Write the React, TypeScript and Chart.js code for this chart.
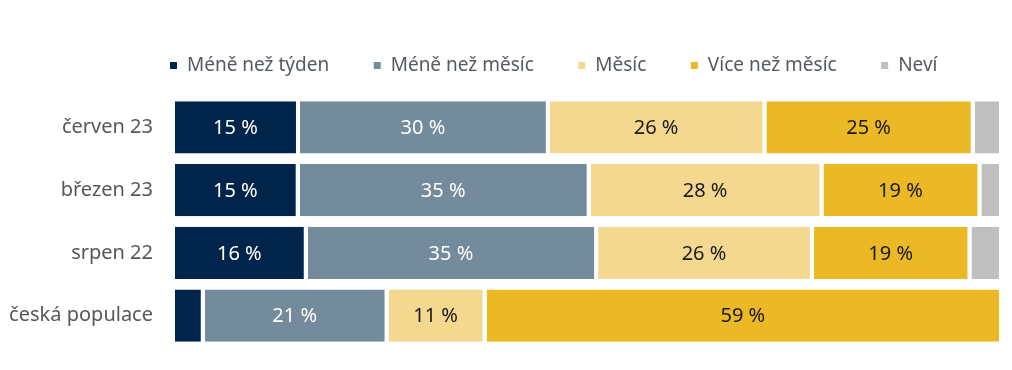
import React, { useEffect, useRef } from "react";
import { Chart, registerables } from "chart.js";

Chart.register(...registerables);

const categories = ["červen 23", "březen 23", "srpen 22", "česká populace"];
const seriesNames = ["Méně než týden", "Méně než měsíc", "Měsíc", "Více než měsíc", "Neví"];
const meneNezTyden = [15, 15, 16, 3.4];
const meneNezMesic = [30, 35, 35, 21];
const mesic = [26, 28, 26, 11.2];
const viceNezMesic = [25, 19, 19, 59];
const nevi = [3.4, 2.6, 3.8, 0];
const showLabel = [
  [true, true, true, false],
  [true, true, true, true],
  [true, true, true, true],
  [true, true, true, true],
  [false, false, false, false],
];
const displayValues = [
  [15, 15, 16, 3],
  [30, 35, 35, 21],
  [26, 28, 26, 11],
  [25, 19, 19, 59],
  [3, 3, 4, 0],
];

const colors = ["#01244a", "#738b9a", "#f4d88f", "#ebb826", "#bfbfbf"];
const labelColors = ["#ffffff", "#ffffff", "#1a1a1a", "#1a1a1a", "#1a1a1a"];
const FONT = "'Noto Sans', 'Open Sans', sans-serif";
const GAP = 4;

export default function App() {
  const ref = useRef<HTMLCanvasElement | null>(null);
  useEffect(() => {
    if (!ref.current) return;
    const raw = [meneNezTyden, meneNezMesic, mesic, viceNezMesic, nevi];
    const sums = categories.map((_, i) => raw.reduce((s, arr) => s + arr[i], 0));
    const datasets = raw.map((arr, d) => ({
      label: seriesNames[d],
      data: arr.map((v, i) => (v / sums[i]) * 100),
      backgroundColor: colors[d],
      borderColor: "#ffffff",
      borderWidth: { left: 0, right: GAP, top: 0, bottom: 0 },
      borderSkipped: false as const,
      barPercentage: 0.83,
      categoryPercentage: 1,
    }));

    const valueLabels = {
      id: "valueLabels",
      afterDatasetsDraw(chart: any) {
        const ctx = chart.ctx;
        ctx.save();
        ctx.font = `20px ${FONT}`;
        ctx.textAlign = "center";
        ctx.textBaseline = "middle";
        chart.data.datasets.forEach((ds: any, d: number) => {
          const meta = chart.getDatasetMeta(d);
          meta.data.forEach((el: any, i: number) => {
            if (!showLabel[d][i]) return;
            const v = displayValues[d][i];
            const left = Math.min(el.x, el.base);
            const right = Math.max(el.x, el.base) - GAP;
            ctx.fillStyle = labelColors[d];
            ctx.fillText(`${v} %`, (left + right) / 2, el.y + 1);
          });
        });
        ctx.restore();
      },
    };

    const legendTweak = {
      id: "legendTweak",
      beforeInit(chart: any) {
        const legend = chart.legend;
        if (!legend) return;
        const orig = legend.fit;
        legend.fit = function () {
          orig.call(this);
          this.height = 84;
        };
      },
      afterLayout(chart: any) {
        const legend = chart.legend;
        if (!legend) return;
        legend.left += 52;
        legend.right += 52;
      },
    };

    const chart = new Chart(ref.current, {
      type: "bar",
      data: { labels: categories, datasets },
      options: {
        indexAxis: "y",
        animation: false,
        responsive: false,
        maintainAspectRatio: false,
        layout: { padding: { top: 12, right: 9, bottom: 23, left: 0 } },
        scales: {
          x: { stacked: true, min: 0, max: 100, display: false },
          y: {
            stacked: true,
            grid: { display: false, drawTicks: false },
            border: { display: false },
            ticks: { color: "#575757", font: { family: FONT, size: 20 }, padding: 22 },
            afterFit: (scale: any) => {
              scale.width = 175;
              scale.paddingTop = 0;
              scale.paddingBottom = 0;
            },
          },
        },
        plugins: {
          legend: {
            position: "top",
            align: "center",
            labels: {
              color: "#555a60",
              font: { family: FONT, size: 19 },
              boxWidth: 8,
              boxHeight: 8,
              padding: 44,
            },
          },
          tooltip: { enabled: false },
        },
      },
      plugins: [valueLabels, legendTweak],
    });
    return () => chart.destroy();
  }, []);

  return (
    <div style={{ position: "absolute", left: 0, top: 0, width: 1012, height: 370, background: "#fff" }}>
      <canvas ref={ref} width={1012} height={370} style={{ display: "block" }} />
    </div>
  );
}
